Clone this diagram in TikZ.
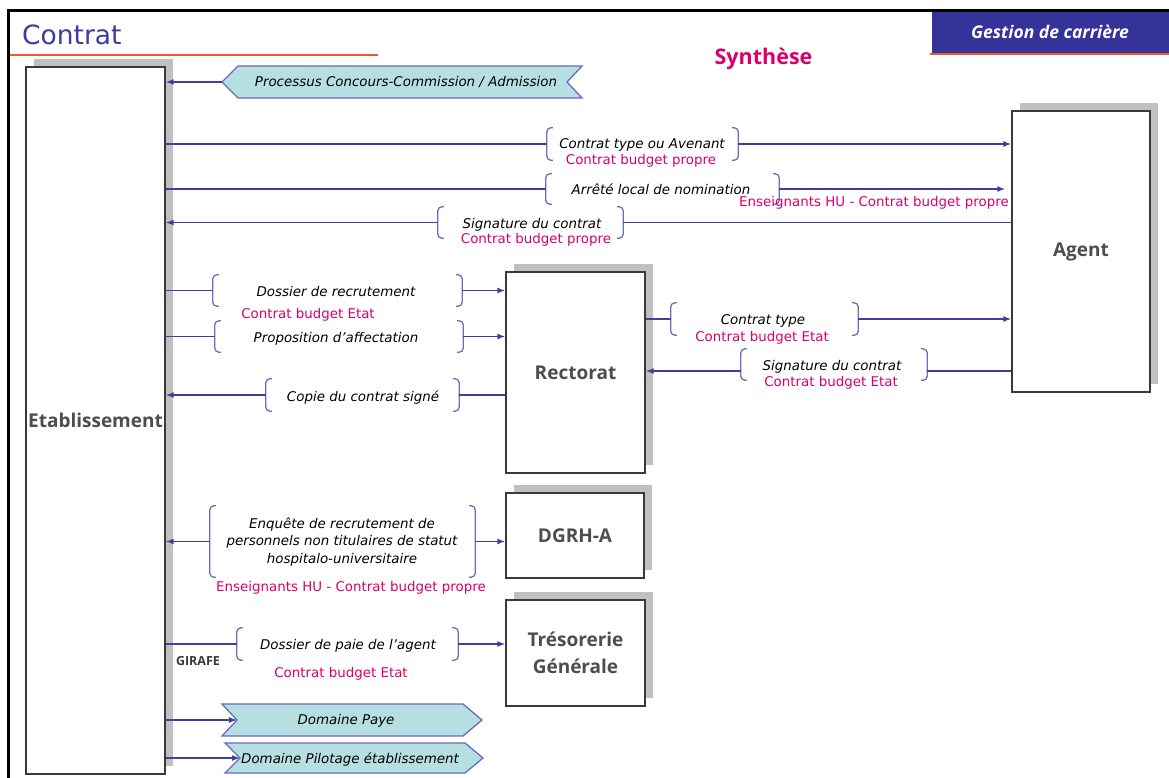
\documentclass[tikz,border=0pt]{standalone}
\usepackage{fontspec}
\setmainfont{DejaVu Sans}[ItalicFont={DejaVu Sans Oblique},BoldFont={DejaVu Sans Bold}]
\newfontfamily\labelfont{Open Sans}
\usetikzlibrary{arrows.meta,shadows}

\definecolor{arrowc}{HTML}{3F3F9F}
\definecolor{brackc}{HTML}{6E6EC0}
\definecolor{magc}{HTML}{D9006C}
\definecolor{titlec}{HTML}{3C3C9C}
\definecolor{bannerblue}{HTML}{333399}
\definecolor{orangec}{HTML}{F05A28}
\definecolor{boxc}{HTML}{3A3A3A}
\definecolor{labelc}{HTML}{4D4D4D}
\definecolor{shadowc}{HTML}{C0C0C0}
\definecolor{bandfill}{HTML}{B6DFE1}
\definecolor{banddraw}{HTML}{6A6AC0}

\newcommand\smallfont{\fontsize{13.4}{17.5}\selectfont}
% draws the two curly-ended brackets around a label zone
\newcommand\drawbraces[1]{%
  \draw[brk] ([xshift=6pt]#1.north west) -- (#1.north west) -- (#1.south west) -- ([xshift=6pt]#1.south west);
  \draw[brk] ([xshift=-6pt]#1.north east) -- (#1.north east) -- (#1.south east) -- ([xshift=-6pt]#1.south east);}

\tikzset{
  entity/.style={draw=boxc, line width=1.3pt, fill=white, inner sep=0pt, align=center,
    font=\labelfont\bfseries\fontsize{19}{27}\selectfont, text=labelc,
    general shadow={fill=shadowc, shadow xshift=8pt, shadow yshift=8pt}},
  link/.style={draw=arrowc, line width=1.4pt},
  arr/.style={link, -{Latex[length=8pt,width=6pt]}},
  brk/.style={draw=brackc, line width=1.3pt, rounded corners=4pt},
  zone/.style={draw=none, inner sep=0pt},
  lab/.style={font=\smallfont\itshape, text=black, inner sep=0pt, anchor=base},
  mag/.style={font=\smallfont, text=magc, inner sep=0pt, anchor=base},
  band/.style={fill=bandfill, draw=banddraw, line width=1.3pt},
}

\begin{document}
\begin{tikzpicture}[x=1pt, y=-1pt]
\useasboundingbox (0,0) rectangle (1169,778);
\fill[white] (0,0) rectangle (1169,778);

% page frame and header
\draw[line width=3pt, black] (8,778) -- (8,11) -- (1169,11);
\node[anchor=base west, inner sep=0pt, text=titlec, font=\fontsize{26.5}{30}\selectfont] (title) at (22,45) {Contrat};
\draw[orangec, line width=1.5pt] (10,55) -- (378,55);
\fill[bannerblue] (932,12.5) rectangle (1169,53);
\draw[orangec, line width=1.5pt] (930,54) -- (1169,54);
\node[anchor=base, inner sep=0pt, text=white, font=\labelfont\bfseries\itshape\fontsize{17.5}{20}\selectfont] (banner) at (1050,39) {Gestion de carrière};
\node[anchor=base, inner sep=0pt, text=magc, font=\labelfont\bfseries\fontsize{21.5}{24}\selectfont] (synth) at (763.5,65) {Synthèse};

% actors
\node[entity, minimum width=139pt, minimum height=707pt] (etab) at (95.5,420.5) {Etablissement};
\node[entity, minimum width=138pt, minimum height=281pt] (agent) at (1081,251.5) {Agent};
\node[entity, minimum width=139pt, minimum height=201pt] (rect) at (575.5,372.5) {Rectorat};
\node[entity, minimum width=138pt, minimum height=85pt] (dgrh) at (575,535.5) {DGRH-A};
\node[entity, minimum width=139pt, minimum height=106pt] (treso) at (575.5,653) {Trésorerie\\Générale};

% incoming process band
\draw[band] (222,82) -- (238,66) -- (582,66) -- (567,82) -- (582,98) -- (238,98) -- cycle;
\coordinate (proctip) at (222,82);
\node[lab] (proc) at (406,87) {Processus Concours-Commission / Admission};
\draw[arr] (proctip) -- (proctip -| etab.east);

% label zones
\node[zone, minimum width=191pt, minimum height=32pt] (g1) at (642.5,144) {};
\node[zone, minimum width=233pt, minimum height=30pt] (g2) at (662.5,189) {};
\node[zone, minimum width=185pt, minimum height=31pt] (g3) at (530.5,222.5) {};
\node[zone, minimum width=249pt, minimum height=31pt] (g4) at (337.5,290.5) {};
\node[zone, minimum width=248pt, minimum height=31pt] (g5) at (339,336.5) {};
\node[zone, minimum width=193pt, minimum height=32pt] (g6) at (362.5,395) {};
\node[zone, minimum width=187pt, minimum height=32pt] (g7) at (764.5,319) {};
\node[zone, minimum width=186pt, minimum height=31pt] (g8) at (834,364.5) {};
\node[zone, minimum width=265pt, minimum height=71pt] (g9) at (342.5,541.5) {};
\node[zone, minimum width=221pt, minimum height=32pt] (g10) at (347.5,644) {};
\foreach \g in {g1,g2,g3,g4,g5,g6,g7,g8,g9,g10} {\drawbraces{\g}}

% texts
\node[lab] (t1) at (642,149) {Contrat type ou Avenant};
\node[mag] (m1) at (641,165) {Contrat budget propre};
\node[lab] (t2) at (661,195) {Arrêté local de nomination};
\node[mag] (m2) at (874,207) {Enseignants HU - Contrat budget propre};
\node[lab] (t3) at (532,228) {Signature du contrat};
\node[mag] (m3) at (536,243) {Contrat budget propre};
\node[lab] (t4) at (336,296) {Dossier de recrutement};
\node[mag] (m4) at (308,318) {Contrat budget Etat};
\node[lab] (t5) at (336,342) {Proposition d’affectation};
\node[lab] (t6) at (363,401) {Copie du contrat signé};
\node[lab] (t7) at (763,324) {Contrat type};
\node[mag] (m7) at (762,341) {Contrat budget Etat};
\node[lab] (t8) at (832,370) {Signature du contrat};
\node[mag] (m8) at (831,386) {Contrat budget Etat};
\node[lab, anchor=center, align=center] (t9) at (342,542) {Enquête de recrutement de\\personnels non titulaires de statut\\hospitalo-universitaire};
\node[mag] (m9) at (351,591) {Enseignants HU - Contrat budget propre};
\node[lab] (t10) at (348,649) {Dossier de paie de l’agent};
\node[mag] (m10) at (341,677) {Contrat budget Etat};
\node[anchor=base, inner sep=0pt, text=boxc, font=\labelfont\bfseries\fontsize{12.5}{14}\selectfont] (girafe) at (198,665) {GIRAFE};

% connectors Etablissement <-> Agent
\draw[link] (g1.west -| etab.east) -- (g1.west);
\draw[arr] (g1.east) -- (g1.east -| agent.west);
\draw[link] (g2.west -| etab.east) -- (g2.west);
\coordinate (g2e) at ([xshift=-6pt]g2.east -| agent.west);
\draw[arr] (g2.east) -- (g2e);
\draw[link] (agent.west |- g3.east) -- (g3.east);
\draw[arr] (g3.west) -- (g3.west -| etab.east);

% connectors Etablissement <-> Rectorat
\draw[link] (g4.west -| etab.east) -- (g4.west);
\draw[arr] (g4.east) -- (g4.east -| rect.west);
\draw[link] (g5.west -| etab.east) -- (g5.west);
\draw[arr] (g5.east) -- (g5.east -| rect.west);
\draw[link] (rect.west |- g6.east) -- (g6.east);
\draw[arr] (g6.west) -- (g6.west -| etab.east);

% connectors Rectorat <-> Agent
\draw[link] (rect.east |- g7.west) -- (g7.west);
\draw[arr] (g7.east) -- (g7.east -| agent.west);
\coordinate (g8e) at ([yshift=-6.5pt]g8.east);
\coordinate (g8w) at ([yshift=-6.5pt]g8.west);
\draw[link] (g8e -| agent.west) -- (g8e);
\draw[arr] (g8w) -- (g8w -| rect.east);

% connectors Etablissement <-> DGRH-A / Tresorerie
\draw[arr] (g9.west) -- (g9.west -| etab.east);
\draw[arr] (g9.east) -- (g9.east -| dgrh.west);
\draw[link] (g10.west -| etab.east) -- (g10.west);
\draw[arr] (g10.east) -- (g10.east -| treso.west);

% outgoing domain bands
\draw[band] (222,704) -- (463,704) -- (482,720) -- (463,736) -- (222,736) -- (237,720) -- cycle;
\coordinate (payein) at (237,720);
\node[lab] (paye) at (346,724) {Domaine Paye};
\draw[arr] (payein -| etab.east) -- (payein);
\draw[band] (225,743) -- (465,743) -- (483,758) -- (465,773) -- (225,773) -- (240,758) -- cycle;
\coordinate (pilotin) at (240,758);
\node[lab] (pilot) at (350,763) {Domaine Pilotage établissement};
\draw[arr] (pilotin -| etab.east) -- (pilotin);
\end{tikzpicture}
\end{document}
